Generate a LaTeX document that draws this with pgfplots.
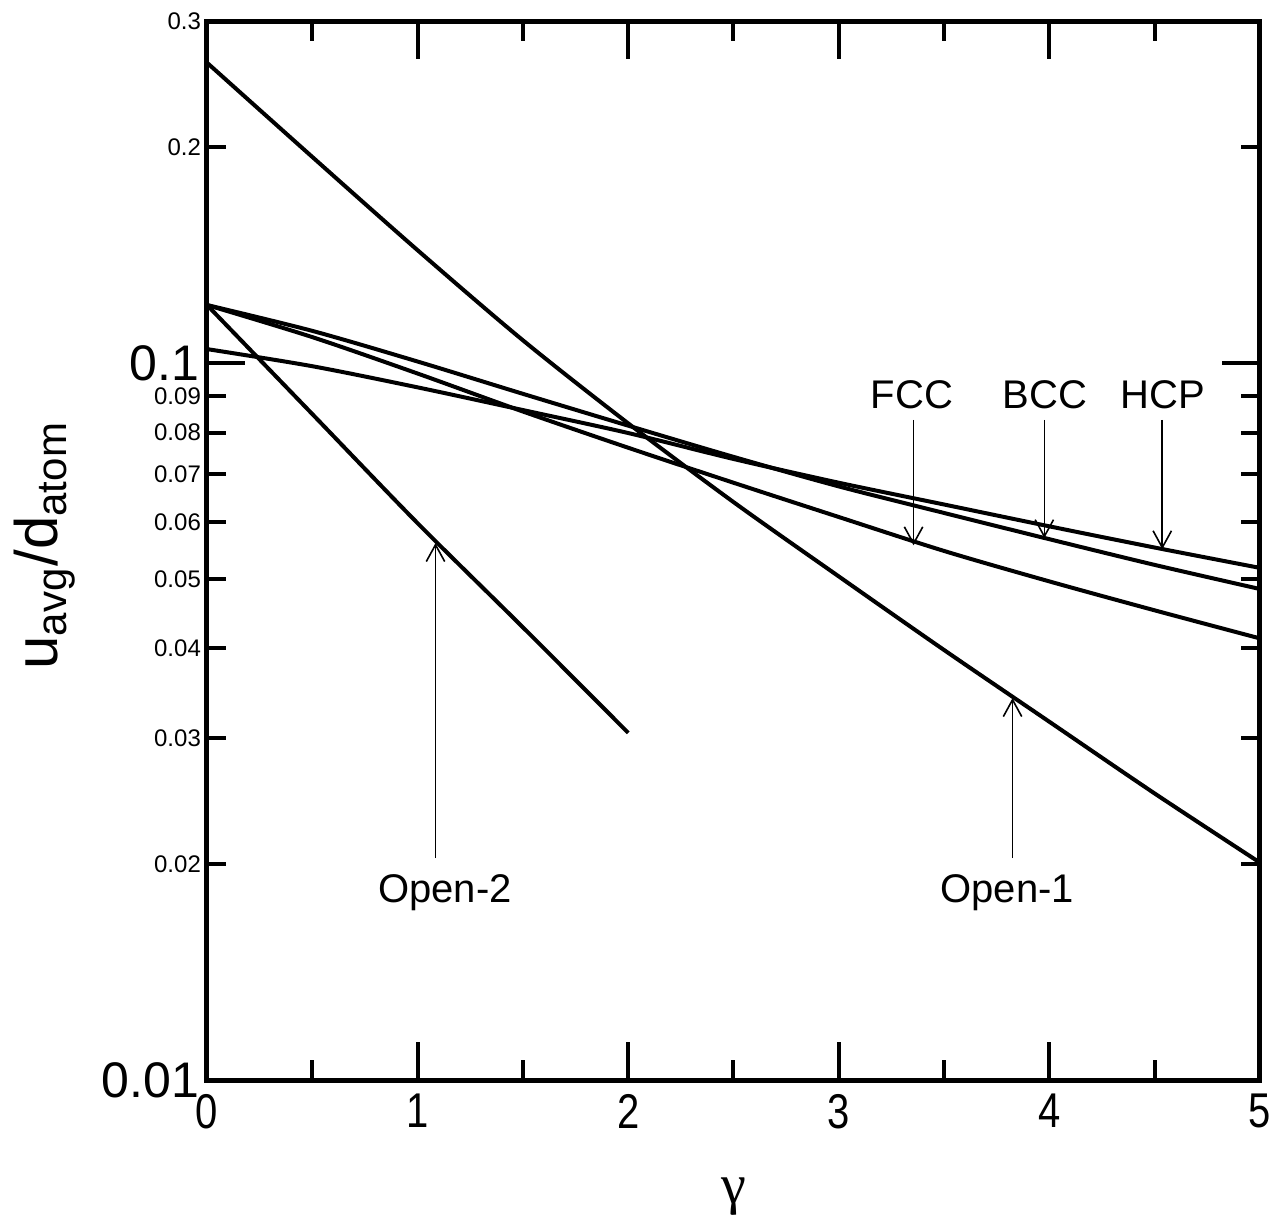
\documentclass[border=0pt]{standalone}
\usepackage{fontspec}
\setmainfont{Liberation Sans}
\newfontfamily\narrowsans[FakeStretch=0.82]{Liberation Sans}
\newfontfamily\greekserif{Liberation Serif}
\usepackage{pgfplots}
\pgfplotsset{compat=1.18}
\usetikzlibrary{arrows.meta}

\pgfplotsset{curve/.style={black, line width=1pt, mark=none, smooth}}

\begin{document}
\begin{tikzpicture}[>={Straight Barb[length=4.2pt,width=4.6pt]}]
\useasboundingbox (-51.75pt,-36pt) rectangle (268.75pt,270pt);
\begin{axis}[
  at={(0,0)}, anchor=south west,
  scale only axis, width=263.25pt, height=264.75pt,
  xmin=0, xmax=5, ymin=0.01, ymax=0.3, ymode=log,
  clip=false,
  axis line style={line width=1.25pt},
  tick align=inside,
  tick style={line width=1pt, black},
  xtick={0,1,2,3,4,5},
  minor xtick={0.5,1.5,2.5,3.5,4.5},
  major tick length=9.5pt, minor tick length=5pt,
  ytick={0.01,0.1}, yticklabels={0.01,0.1},
  yminorticks=false,
  extra y ticks={0.02,0.03,0.04,0.05,0.06,0.07,0.08,0.09,0.2,0.3},
  extra y tick labels={0.02,0.03,0.04,0.05,0.06,0.07,0.08,0.09,0.2,0.3},
  extra y tick style={grid=none, major tick length=4.75pt,
    yticklabel style={font=\fontsize{6}{7}\selectfont, xshift=0.5pt}},
  /pgf/number format/assume math mode=true,
  xticklabel style={font=\narrowsans\fontsize{12.2}{13}\selectfont},
  yticklabel style={font=\fontsize{12.5}{13}\selectfont, xshift=1.5pt},
  xlabel={\greekserif\fontsize{14}{16}\selectfont γ},
  xlabel style={at={(axis description cs:0.5,-0.11)}, anchor=center},
  ylabel={\fontsize{15}{17}\selectfont u\textsubscript{avg}/d\textsubscript{atom}},
  ylabel style={at={(axis description cs:-0.154,0.505)}, anchor=center},
]
% Open-1
\addplot[curve] coordinates {(0,0.2624) (0.5,0.1939) (1,0.1437) (1.5,0.1076) (2,0.0824) (2.5,0.0640) (3,0.0504) (3.5,0.0398) (4,0.0316) (4.5,0.0251) (5,0.0201)};
% Open-2
\addplot[curve] coordinates {(0,0.1205) (0.5,0.0849) (1,0.0598) (1.5,0.0428) (2,0.0305)};
% FCC
\addplot[curve] coordinates {(0,0.1205) (0.5,0.1087) (1,0.0967) (1.5,0.0856) (2,0.0762) (2.5,0.0681) (3,0.0610) (3.5,0.0547) (4,0.0496) (4.5,0.0452) (5,0.0413)};
% BCC
\addplot[curve] coordinates {(0,0.1205) (0.5,0.1109) (1,0.1005) (1.5,0.0906) (2,0.0818) (2.5,0.0740) (3,0.0673) (3.5,0.0618) (4,0.0568) (4.5,0.0523) (5,0.0484)};
% HCP
\addplot[curve] coordinates {(0,0.1046) (0.5,0.0990) (1,0.0925) (1.5,0.0860) (2,0.0799) (2.5,0.0735) (3,0.0681) (3.5,0.0635) (4,0.0592) (4.5,0.0553) (5,0.0518)};

\begin{scope}[font=\fontsize{10}{12}\selectfont]
\node at (axis cs:3.348,0.0902) {FCC};
\node at (axis cs:3.979,0.0902) {BCC};
\node at (axis cs:4.539,0.0902) {HCP};
\node at (axis cs:1.13,0.01824) {Open-2};
\node at (axis cs:3.80,0.01824) {Open-1};
\end{scope}
\begin{scope}[line width=0.4pt]
\draw[->] (axis cs:3.355,0.0833) -- (axis cs:3.355,0.0557);
\draw[->] (axis cs:3.976,0.0833) -- (axis cs:3.976,0.0570);
\draw[->] (axis cs:4.536,0.0833) -- (axis cs:4.536,0.0550);
\draw[->] (axis cs:1.085,0.0204) -- (axis cs:1.085,0.0561);
\draw[->] (axis cs:3.825,0.0204) -- (axis cs:3.825,0.0341);
\end{scope}
\end{axis}
\end{tikzpicture}
\end{document}
